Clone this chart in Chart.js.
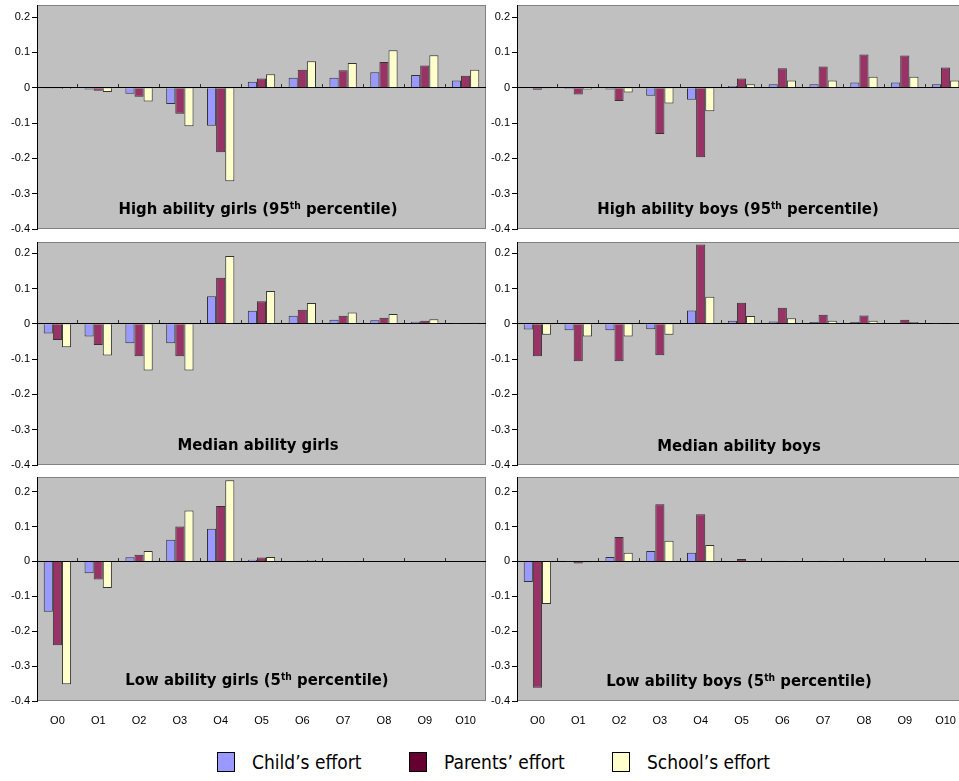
<!DOCTYPE html>
<html>
<head>
<meta charset="utf-8">
<script src="https://cdn.jsdelivr.net/npm/chart.js@4.4.0/dist/chart.umd.min.js"></script>
<style>
  html, body { margin: 0; padding: 0; background: #fff; overflow: hidden; width: 959px; height: 781px; }
  canvas { position: absolute; }
  .title {
    position: absolute; white-space: nowrap; color: #000;
    font-family: "DejaVu Sans Condensed", "DejaVu Sans", sans-serif;
    font-weight: bold; font-size: 16.5px; line-height: 1;
    transform: translate(-50%, -50%);
  }
  .title sup { font-size: 0.62em; vertical-align: 0.5em; line-height: 0; }
  .item { position: absolute; top: 752px; height: 20px; font-family: "DejaVu Sans Condensed", "DejaVu Sans", sans-serif; font-size: 19px; line-height: 20px; color: #000; white-space: nowrap; }
  .box { position: absolute; left: 0; top: 0; width: 16px; height: 18px; border: 1px solid #000; }
  .item span.txt { position: absolute; left: 35px; top: 0; }
</style>
</head>
<body>
<canvas id="c1" style="left:0;top:0"></canvas>
<canvas id="c2" style="left:486px;top:0"></canvas>
<canvas id="c3" style="left:0;top:236px"></canvas>
<canvas id="c4" style="left:486px;top:236px"></canvas>
<canvas id="c5" style="left:0;top:472px"></canvas>
<canvas id="c6" style="left:486px;top:472px"></canvas>

<div class="title" style="left:258px;top:209px">High ability girls (95<sup>th</sup> percentile)</div>
<div class="title" style="left:738px;top:209px">High ability boys (95<sup>th</sup> percentile)</div>
<div class="title" style="left:258px;top:445px">Median ability girls</div>
<div class="title" style="left:739px;top:446px">Median ability boys</div>
<div class="title" style="left:257px;top:680px">Low ability girls (5<sup>th</sup> percentile)</div>
<div class="title" style="left:739px;top:681px">Low ability boys (5<sup>th</sup> percentile)</div>

<div class="item" style="left:217px"><div class="box" style="background:#9999FF"></div><span class="txt">Child’s effort</span></div>
<div class="item" style="left:409px"><div class="box" style="background:#660033"></div><span class="txt">Parents’ effort</span></div>
<div class="item" style="left:612px"><div class="box" style="background:#FFFFCC"></div><span class="txt">School’s effort</span></div>

<script>
const categories = ['Q0', 'Q1', 'Q2', 'Q3', 'Q4', 'Q5', 'Q6', 'Q7', 'Q8', 'Q9', 'Q10'];
const yTicks = [-0.4, -0.3, -0.2, -0.1, 0, 0.1, 0.2];

const highGirlsChild   = [-0.002, -0.005, -0.017, -0.046, -0.108, 0.017, 0.028, 0.028, 0.044, 0.036, 0.020];
const highGirlsParents = [-0.002, -0.009, -0.026, -0.074, -0.183, 0.026, 0.051, 0.049, 0.073, 0.063, 0.034];
const highGirlsSchool  = [-0.004, -0.012, -0.039, -0.109, -0.265, 0.038, 0.075, 0.070, 0.106, 0.092, 0.051];

const highBoysChild   = [-0.001, -0.004, -0.005, -0.023, -0.034, 0.005, 0.010, 0.010, 0.015, 0.015, 0.010];
const highBoysParents = [-0.006, -0.019, -0.038, -0.131, -0.197, 0.026, 0.055, 0.060, 0.094, 0.091, 0.057];
const highBoysSchool  = [-0.002, -0.005, -0.014, -0.045, -0.067, 0.010, 0.020, 0.020, 0.031, 0.031, 0.020];

const medGirlsChild   = [-0.027, -0.036, -0.055, -0.055, 0.078, 0.037, 0.023, 0.012, 0.010, 0.006, 0.001];
const medGirlsParents = [-0.046, -0.060, -0.092, -0.092, 0.131, 0.064, 0.040, 0.023, 0.017, 0.009, 0.001];
const medGirlsSchool  = [-0.066, -0.090, -0.132, -0.132, 0.192, 0.093, 0.059, 0.032, 0.028, 0.013, 0.003];

const medBoysChild   = [-0.016, -0.018, -0.018, -0.015, 0.038, 0.009, 0.007, 0.005, 0.005, 0.002, 0.001];
const medBoysParents = [-0.092, -0.106, -0.106, -0.089, 0.225, 0.060, 0.046, 0.026, 0.024, 0.012, 0.002];
const medBoysSchool  = [-0.031, -0.036, -0.036, -0.031, 0.077, 0.022, 0.016, 0.009, 0.009, 0.005, 0.001];

const lowGirlsChild   = [-0.144, -0.034, 0.012, 0.062, 0.094, 0.005, 0.002, 0.000, 0, 0, 0];
const lowGirlsParents = [-0.240, -0.052, 0.019, 0.100, 0.159, 0.011, 0.002, 0.001, 0, 0, 0];
const lowGirlsSchool  = [-0.352, -0.076, 0.030, 0.146, 0.233, 0.013, 0.004, 0.002, 0, 0, 0];

const lowBoysChild   = [-0.059, -0.001, 0.013, 0.030, 0.025, 0.001, 0.002, 0.001, 0.000, 0, 0];
const lowBoysParents = [-0.362, -0.006, 0.070, 0.164, 0.135, 0.007, 0.002, 0.002, 0.002, 0, 0];
const lowBoysSchool  = [-0.122, -0.002, 0.025, 0.059, 0.047, 0.002, 0.002, 0.002, 0.000, 0, 0];

const seriesNames = ['Child’s effort', 'Parents’ effort', 'School’s effort'];

// grey plot area with a thin frame, like the Excel original
const plotBackground = {
  id: 'plotBackground',
  beforeDraw(chart) {
    const { ctx, chartArea: a } = chart;
    ctx.save();
    ctx.fillStyle = '#C0C0C0';
    ctx.fillRect(a.left, a.top, a.width, a.height);
    ctx.strokeStyle = '#808080';
    ctx.lineWidth = 1;
    ctx.strokeRect(a.left + 0.5, a.top + 0.5, a.width - 1, a.height - 1);
    ctx.restore();
  }
};

const tickFont = { family: 'Liberation Sans, Arial, sans-serif', size: 11 };

function makePanel(id, width, height, child, parents, school, opts) {
  const el = document.getElementById(id);
  el.width = width;
  el.height = height;
  el.style.width = width + 'px';
  el.style.height = height + 'px';
  return new Chart(el, {
    type: 'bar',
    data: {
      labels: categories,
      datasets: [
        { label: seriesNames[0], data: child, backgroundColor: '#9999FF', borderColor: '#333333', borderWidth: 1 },
        { label: seriesNames[1], data: parents, backgroundColor: '#993366', borderColor: '#333333', borderWidth: 1 },
        { label: seriesNames[2], data: school, backgroundColor: '#FFFFCC', borderColor: '#333333', borderWidth: 1 }
      ]
    },
    options: {
      responsive: false,
      animation: false,
      layout: { padding: { top: opts.padTop, bottom: opts.padBottom, left: 0, right: 0 } },
      datasets: { bar: { categoryPercentage: 0.67, barPercentage: 1.0 } },
      plugins: { legend: { display: false }, tooltip: { enabled: false } },
      scales: {
        x: {
          display: opts.showX,
          offset: true,
          grid: { display: false },
          border: { display: false },
          ticks: { color: '#000', font: tickFont, padding: 5, maxRotation: 0, autoSkip: false },
          afterFit: s => { s.height = opts.showX ? 23 : 0; s.paddingLeft = 0; s.paddingRight = 0; }
        },
        x0: {
          type: 'category',
          labels: categories,
          offset: true,
          position: { y: 0 },
          ticks: { display: false },
          grid: { display: true, drawOnChartArea: false, drawTicks: true, tickLength: -4, offset: true, color: '#333333' },
          border: { display: true, color: '#000', width: 1 }
        },
        y: {
          min: -0.4,
          max: opts.yMax,
          afterBuildTicks: s => { s.ticks = yTicks.map(v => ({ value: v })); },
          afterFit: s => { s.width = opts.axisWidth; s.paddingTop = 0; s.paddingBottom = 0; },
          ticks: { color: '#000', font: tickFont, padding: 2, callback: v => String(Math.round(v * 10) / 10) },
          grid: { display: true, drawOnChartArea: false, tickLength: 5, color: '#000' },
          border: { display: true, color: '#000', width: 1 }
        }
      }
    },
    plugins: [plotBackground]
  });
}

makePanel('c1', 486, 236, highGirlsChild, highGirlsParents, highGirlsSchool, { showX: false, yMax: 0.234, padTop: 5, padBottom: 7, axisWidth: 37 });
makePanel('c2', 480, 236, highBoysChild, highBoysParents, highBoysSchool, { showX: false, yMax: 0.234, padTop: 5, padBottom: 7, axisWidth: 31 });
makePanel('c3', 486, 236, medGirlsChild, medGirlsParents, medGirlsSchool, { showX: false, yMax: 0.232, padTop: 6, padBottom: 7, axisWidth: 37 });
makePanel('c4', 480, 236, medBoysChild, medBoysParents, medBoysSchool, { showX: false, yMax: 0.232, padTop: 6, padBottom: 7, axisWidth: 31 });
makePanel('c5', 486, 260, lowGirlsChild, lowGirlsParents, lowGirlsSchool, { showX: true, yMax: 0.242, padTop: 5, padBottom: 8, axisWidth: 37 });
makePanel('c6', 480, 260, lowBoysChild, lowBoysParents, lowBoysSchool, { showX: true, yMax: 0.242, padTop: 5, padBottom: 8, axisWidth: 31 });
</script>
</body>
</html>
